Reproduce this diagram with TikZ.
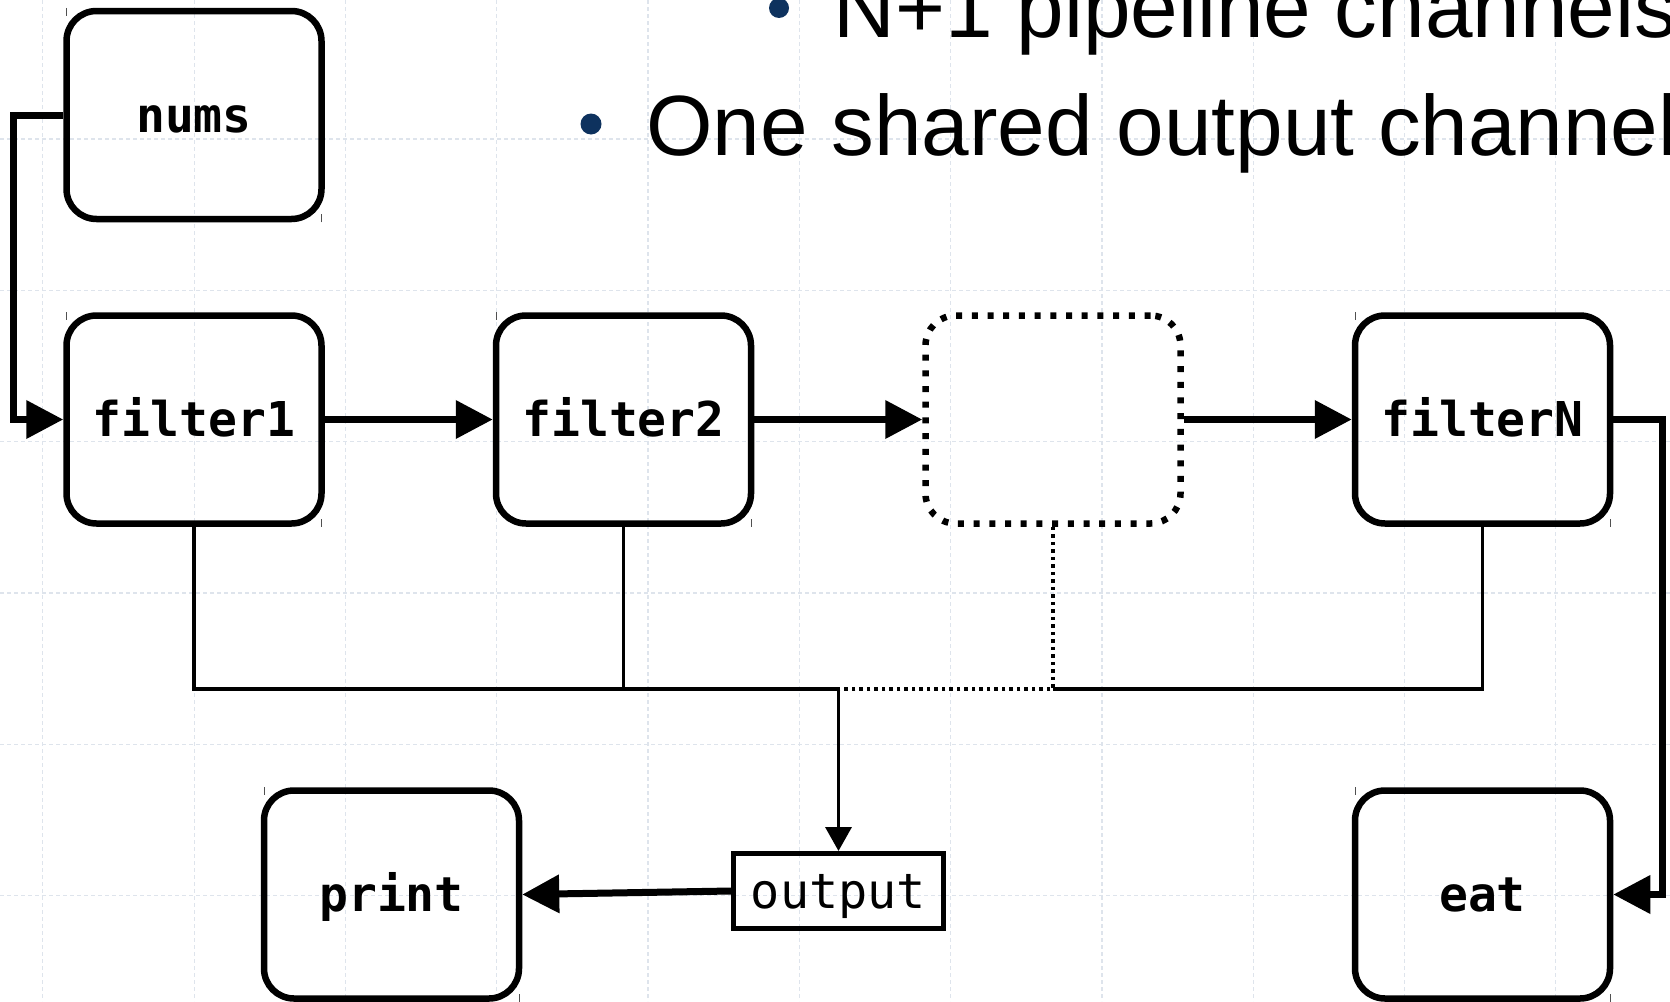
\documentclass[tikz,border=0pt]{standalone}
\usepackage{fontspec}
\setmainfont{Liberation Sans}
\newfontfamily\codefont{DejaVu Sans Mono}
\usetikzlibrary{arrows.meta,calc}
\definecolor{gridblue}{RGB}{222,228,236}
\definecolor{bulletnavy}{RGB}{14,50,94}
\definecolor{tickgray}{RGB}{80,80,80}

\begin{document}
\begin{tikzpicture}[x=1pt,y=-1pt,
  proc/.style={draw, line width=6.5pt, rounded corners=30pt,
    minimum width=255pt, minimum height=208pt, inner sep=0pt,
    font=\codefont\bfseries\fontsize{48}{55}\selectfont,
    text height=36pt, text depth=2pt},
  ghost/.style={proc, dash pattern=on 6pt off 9.7pt},
  chan/.style={draw, line width=5pt, minimum width=210pt, minimum height=75pt,
    inner sep=0pt, font=\codefont\fontsize{48.5}{55}\selectfont,
    text height=36pt, text depth=2pt},
  flow/.style={line width=7pt, -{Triangle[length=37pt,width=37pt]}},
  bus/.style={line width=3.5pt},
  busdot/.style={line width=3.5pt, dash pattern=on 3.5pt off 4pt},
  gridline/.style={draw=gridblue, line width=1.2pt, dash pattern=on 4pt off 3pt},
  cornertick/.style={draw=tickgray, line width=1pt},
  bullettext/.style={anchor=base west, inner sep=0pt,
    font=\fontsize{85.5}{100}\selectfont}
]
% page frame
\fill[white] (0,0) rectangle (1670,1001);
\useasboundingbox (0,0) rectangle (1670,1001);
\clip (0,0) rectangle (1670,1001);

% background grid
\foreach \i in {0,...,10}
  \draw[gridline] ({42.8+151.3*\i},0) -- ({42.8+151.3*\i},1001);
\foreach \j in {0,...,5}
  \draw[gridline] (0,{139+151.3*\j}) -- (1670,{139+151.3*\j});

% bullet lines
\fill[bulletnavy] (779,8) circle (10pt);
\node[bullettext] (subline) at (833.5,37) {N+1 pipeline channels};
\fill[bulletnavy] (591,124) circle (10.5pt);
\node[bullettext] (mainline) at (646,155) {One shared output channel};

% processes
\node[proc] (nums)    at (194,115)     {nums};
\node[proc] (filter1) at (194,419.5)   {filter1};
\node[proc] (filter2) at (623.5,419.5) {filter2};
\node[ghost] (mid)    at (1053,419.5)  {};
\node[proc] (filterN) at (1482.5,419.5){filterN};
\node[proc] (print)   at (391.5,894.5) {print};
\node[proc] (eat)     at (1482.5,894.5){eat};
\node[chan] (output)  at (838.5,891)   {output};

% small corner marks
\foreach \b in {nums,filter1,filter2,filterN,print,eat} {
  \draw[cornertick] ($(\b.north west)+(3.25,0)$) -- ++(0,8);
  \draw[cornertick] ($(\b.south east)+(-3.25,0)$) -- ++(0,-8);
}

% pipeline
\coordinate (lft) at (13.5,115);
\coordinate (rgt) at (1662,419.5);
\draw[flow] (nums.west) -- (lft) |- (filter1.west);
\draw[flow] (filter1.east) -- (filter2.west);
\draw[flow] (filter2.east) -- (mid.west);
\draw[flow] (mid.east) -- (filterN.west);
\draw[flow] (filterN.east) -- (rgt) |- (eat.east);

% shared output channel
\coordinate (jn) at (838.5,689);
\coordinate (jm) at (mid.south |- jn);
\draw[bus] (filter1.south) |- (jn);
\draw[bus] (filter2.south) |- (jn);
\draw[busdot] (mid.south) |- (jn);
\draw[bus] (filterN.south) |- (jm);
\draw[bus, -{Triangle[length=24pt,width=26pt]}] (jn) -- (output.north);
\draw[flow] (output.west) -- (print.east);
\end{tikzpicture}
\end{document}
